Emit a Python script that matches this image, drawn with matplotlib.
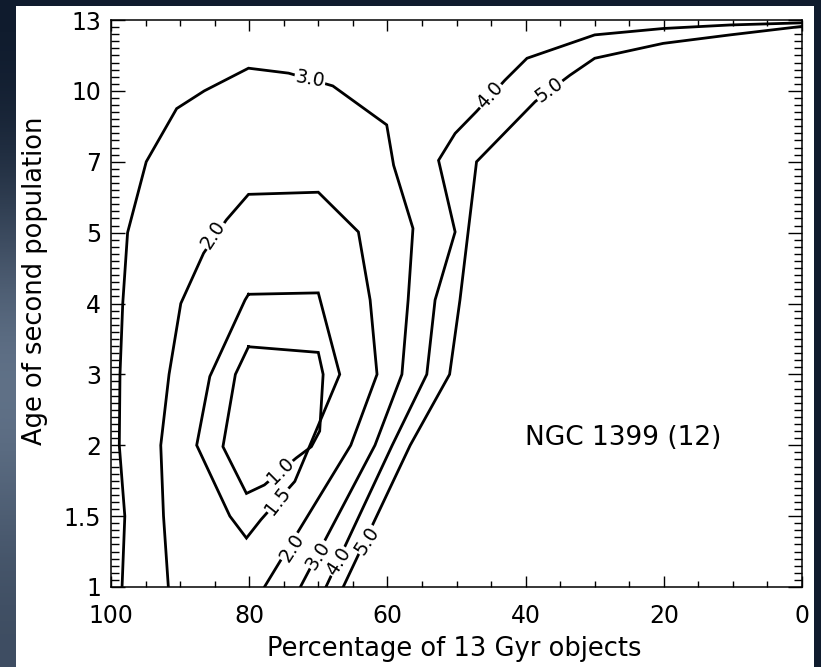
import numpy as np
import matplotlib
matplotlib.use("Agg")
import matplotlib.pyplot as plt
from matplotlib.patches import Rectangle

# y axis is the model age grid, plotted in equal steps
age_grid = [1, 1.5, 2, 3, 4, 5, 7, 10, 13]
age_labels = ["1", "1.5", "2", "3", "4", "5", "7", "10", "13"]

# contour polylines: x = percentage of 13 Gyr objects, y = step on the age grid
c10_x = [80.1, 70.0, 69.3, 69.8, 71.0, 73.2, 77.8, 80.4, 83.8, 82.0, 80.1]
c10_y = [3.39, 3.31, 3.0, 2.2, 1.98, 1.82, 1.44, 1.32, 1.98, 3.0, 3.39]

c15_x = [80.1, 70.0, 66.9, 73.4, 78.3, 80.4, 82.8, 87.6, 85.7, 80.6, 80.1]
c15_y = [4.13, 4.15, 3.0, 1.49, 0.95, 0.69, 1.0, 2.0, 2.97, 4.05, 4.13]

c20_x = [91.7, 92.4, 92.8, 91.6, 89.9, 86.6, 83.3, 80.1, 70.0, 64.2, 62.5, 61.5, 65.3, 77.8]
c20_y = [0.0, 1.0, 2.0, 3.0, 4.0, 4.71, 5.18, 5.54, 5.57, 5.01, 4.05, 3.0, 2.0, 0.0]

c30_x = [98.4, 98.0, 98.8, 98.7, 98.3, 97.6, 94.9, 90.5, 86.5, 80.1, 74.3, 67.9,
         60.1, 59.1, 56.3, 57.0, 57.9, 61.8, 72.6]
c30_y = [0.0, 1.0, 2.0, 3.0, 4.0, 5.0, 6.0, 6.75, 7.0, 7.32, 7.25, 7.07,
         6.52, 5.95, 5.06, 4.05, 3.0, 2.0, 0.0]

c40_x = [0.0, 10.4, 20.1, 30.0, 39.8, 43.0, 47.1, 50.2, 52.6, 50.2, 53.1, 54.3, 59.3, 68.9]
c40_y = [7.96, 7.93, 7.88, 7.79, 7.46, 7.15, 6.71, 6.4, 6.02, 5.01, 4.05, 3.0, 2.0, 0.0]

c50_x = [0.0, 10.4, 20.1, 30.0, 33.6, 38.6, 47.1, 49.5, 51.0, 56.7, 66.4]
c50_y = [7.91, 7.79, 7.67, 7.46, 7.22, 6.85, 6.0, 4.05, 3.0, 2.0, 0.0]

# contour labels: text, x, y, angle
lab_text = ["1.0", "1.5", "2.0", "2.0", "3.0", "3.0", "4.0", "4.0", "5.0", "5.0"]
lab_x = [75.5, 75.8, 85.2, 73.8, 71.2, 70.0, 45.2, 67.1, 36.6, 63.0]
lab_y = [1.64, 1.22, 4.97, 0.55, 7.17, 0.45, 6.94, 0.36, 7.02, 0.66]
lab_rot = [45, 52, 57, 57, -10, 57, 48, 57, 36, 57]

fig = plt.figure(figsize=(8.21, 6.67), dpi=100)
fig.patch.set_facecolor("#0f1b2d")

# bluish-grey glow down the left strip
strip = fig.add_axes([0, 0, 16 / 821, 1], zorder=-5)
shade = np.array([0.0, 0.1, 0.35, 0.7, 0.9, 0.8, 0.6, 0.5]).reshape(-1, 1)
strip.imshow(shade, cmap=matplotlib.colors.LinearSegmentedColormap.from_list(
    "sky", ["#0f1b2d", "#6d7f96"]), aspect="auto", vmin=0, vmax=1,
    interpolation="bicubic", origin="upper")
strip.axis("off")

fig.patches.append(Rectangle((16 / 821, 0), (814 - 16) / 821, (667 - 6) / 667,
                             transform=fig.transFigure, facecolor="white",
                             edgecolor="none", zorder=-2))

ax = fig.add_axes([111 / 821, 80 / 667, 691 / 821, 567 / 667])
ax.set_facecolor("white")

lw = 2.0
for xs, ys in [(c10_x, c10_y), (c15_x, c15_y), (c20_x, c20_y),
               (c30_x, c30_y), (c40_x, c40_y), (c50_x, c50_y)]:
    ax.plot(xs, ys, color="black", lw=lw, solid_joinstyle="miter", zorder=2)

for t, x, y, r in zip(lab_text, lab_x, lab_y, lab_rot):
    ax.text(x, y, t, rotation=r, ha="center", va="center", fontsize=13.5,
            rotation_mode="anchor", zorder=3,
            bbox=dict(boxstyle="square,pad=0.05", fc="white", ec="none"))

ax.text(40.1, 2.1, "NGC 1399 (12)", fontsize=19, ha="left", va="center")

ax.set_xlim(100, 0)
ax.set_ylim(0, 8)
ax.set_xticks([100, 80, 60, 40, 20, 0])
ax.set_xticks(np.arange(0, 101, 5), minor=True)
ax.set_yticks(range(len(age_grid)))
ax.set_yticklabels(age_labels)
ax.set_yticks(np.arange(0, 8.01, 0.1), minor=True)

for s in ax.spines.values():
    s.set_linewidth(1.1)

ax.tick_params(axis="both", which="both", direction="in", top=True, right=True,
               labelsize=17, width=1.0, colors="black")
ax.tick_params(axis="x", which="major", length=8, pad=12)
ax.tick_params(axis="x", which="minor", length=4)
ax.tick_params(axis="y", which="major", length=10, pad=7)
ax.tick_params(axis="y", which="minor", length=5.5)

ax.text(0.497, -0.11, "Percentage of 13 Gyr objects", transform=ax.transAxes,
        ha="center", va="center", fontsize=18.5)
ax.text(-0.11, 0.54, "Age of second population", transform=ax.transAxes,
        ha="center", va="center", rotation=90, fontsize=18.5)

fig.savefig("out.png", dpi=100, facecolor=fig.get_facecolor())
